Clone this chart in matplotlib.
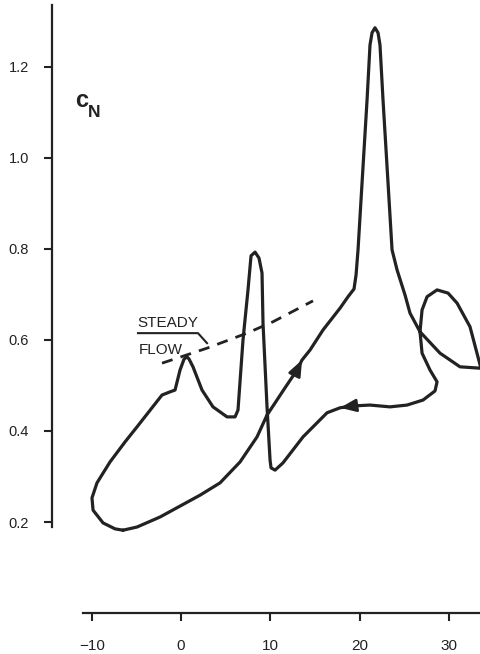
import matplotlib.pyplot as plt

FIG_SIZE = (4.81, 6.54)
plt.rcParams['font.family'] = ['Liberation Sans', 'DejaVu Sans']

# hysteresis loop of normal force coefficient vs angle of attack (deg)
# traced from the start of the upstroke (bottom of the loop)
alpha = [-6.50, -4.93, -2.35, 2.13, 4.37, 6.61, 8.51, 9.63, 11.65, 12.99, 13.55, 14.45,
         15.90, 17.81, 18.70, 19.37, 19.60, 19.82, 20.27, 20.83, 21.16, 21.39, 21.72, 22.06,
         22.28, 22.62, 23.18, 23.63, 24.19, 25.08, 25.64, 26.76, 29.00, 31.24, 33.48, 34.72,
         35.95, 35.39, 34.38, 33.59, 32.36, 30.91, 29.90, 28.67, 27.55, 26.99, 26.76, 26.99,
         27.88, 28.67, 28.44, 27.10, 25.31, 23.40, 21.16, 19.26, 17.81, 16.35, 13.66, 11.42,
         10.53, 10.08, 9.97, 9.63, 9.18, 9.07, 8.73, 8.29, 7.84, 7.50, 6.94, 6.38,
         6.05, 5.15, 3.58, 2.35, 1.34, 0.90, 0.67, 0.34, -0.11, -0.67, -1.23, -2.13,
         -4.93, -6.27, -7.95, -9.41, -9.97, -9.85, -8.73, -7.39, -6.50]
cn = [0.182, 0.189, 0.211, 0.259, 0.286, 0.332, 0.387, 0.435, 0.495, 0.534, 0.556, 0.578,
      0.622, 0.670, 0.695, 0.712, 0.743, 0.798, 0.945, 1.127, 1.248, 1.275, 1.286, 1.275,
      1.248, 1.127, 0.945, 0.798, 0.754, 0.699, 0.659, 0.618, 0.571, 0.541, 0.538, 0.532,
      0.543, 0.556, 0.574, 0.593, 0.629, 0.681, 0.703, 0.710, 0.695, 0.666, 0.618, 0.571,
      0.534, 0.508, 0.488, 0.468, 0.457, 0.453, 0.457, 0.455, 0.451, 0.440, 0.387, 0.330,
      0.314, 0.319, 0.336, 0.453, 0.637, 0.747, 0.780, 0.793, 0.785, 0.710, 0.600, 0.446,
      0.431, 0.431, 0.453, 0.490, 0.541, 0.558, 0.563, 0.558, 0.534, 0.490, 0.486, 0.479,
      0.409, 0.376, 0.332, 0.286, 0.253, 0.226, 0.198, 0.185, 0.182]

# steady flow curve
steady_alpha = [-2.13, 2.91, 7.39, 10.30, 14.78]
steady_cn = [0.549, 0.582, 0.615, 0.640, 0.686]

xticks = [-10, 0, 10, 20, 30]
yticks = [0.2, 0.4, 0.6, 0.8, 1.0, 1.2]
ytick_labels = ['0.2', '0.4', '0.6', '0.8', '1.0', '1.2']

fig = plt.figure(figsize=FIG_SIZE, dpi=100)
ax = fig.add_axes([0, 0, 1, 1])
ax.set_xlim(-20.27, 33.59)
ax.set_ylim(-0.090, 1.347)

lc = '#222222'
ax.plot(alpha, cn, color=lc, lw=2.3, solid_joinstyle='round', solid_capstyle='round')
ax.plot(steady_alpha, steady_cn, color=lc, lw=2.0, ls=(0, (4, 3)))

# direction arrows on the loop (upstroke and downstroke)
arrow = dict(arrowstyle='-|>,head_length=0.95,head_width=0.38', color=lc, lw=2.0,
             shrinkA=0, shrinkB=0)
ax.annotate('', xy=(alpha[10], cn[10]), xytext=(alpha[9], cn[9]), arrowprops=arrow)
ax.annotate('', xy=(alpha[56], cn[56]), xytext=(alpha[55], cn[55]), arrowprops=arrow)

# steady flow label with leader line
ax.text(-4.9, 0.638, 'STEADY', fontsize=11, color=lc, ha='left', va='center')
ax.text(-4.7, 0.578, 'FLOW', fontsize=11, color=lc, ha='left', va='center')
ax.plot([-4.82, 1.90, 2.91], [0.615, 0.615, 0.593], color=lc, lw=1.5)

# axis label
ax.text(-11.9, 1.126, 'c', fontsize=17, fontweight='bold', color=lc, ha='left', va='center')
ax.text(-10.4, 1.100, 'N', fontsize=12.5, fontweight='bold', color=lc, ha='left', va='center')

for s in ['top', 'right']:
    ax.spines[s].set_visible(False)
ax.spines['left'].set_position(('data', -14.4))
ax.spines['left'].set_bounds(0.19, 1.335)
ax.spines['bottom'].set_position(('data', 0.0))
ax.spines['bottom'].set_bounds(-11, 34)
for s in ['left', 'bottom']:
    ax.spines[s].set_linewidth(1.6)
    ax.spines[s].set_color(lc)

ax.set_xticks(xticks)
ax.set_yticks(yticks)
ax.set_yticklabels(ytick_labels)
ax.tick_params(axis='y', direction='out', length=6, width=1.5, pad=11, labelsize=10.5, colors=lc)
ax.tick_params(axis='x', direction='out', length=6, width=1.5, pad=13, labelsize=11, colors=lc)

plt.savefig('out.png', dpi=100)
